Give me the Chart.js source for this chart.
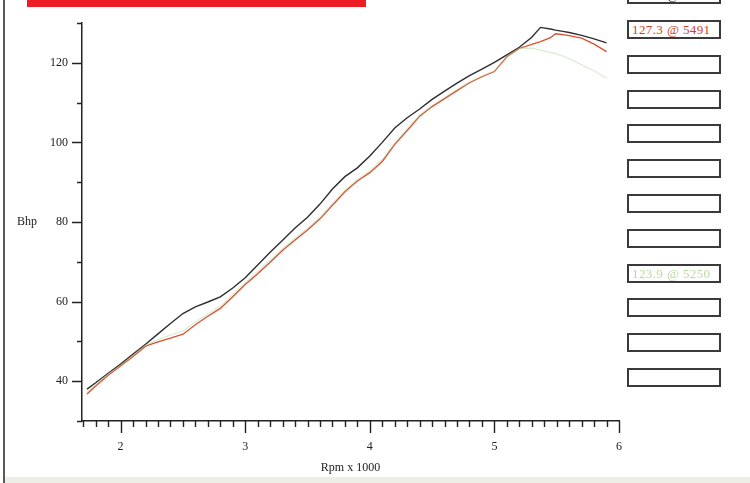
<!DOCTYPE html>
<html>
<head>
<meta charset="utf-8">
<script src="https://cdn.jsdelivr.net/npm/chart.js@4.4.1/dist/chart.umd.min.js"></script>
<style>
  body { margin: 0; background: #fff; }
  #wrap { position: relative; width: 750px; height: 483px; overflow: hidden; background: #fff; }
  #wrap canvas { position: absolute; left: 0; top: 0; }
  .redbar { position: absolute; left: 27px; top: 0; width: 339px; height: 7px; background: #ee1c25; }
  .leftline { position: absolute; left: 3px; top: 0; width: 2px; height: 483px; background: #5a5a5a; }
  .bottomband { position: absolute; left: 5px; top: 477px; width: 745px; height: 6px; background: #efeee6; }
  .box {
    position: absolute; left: 627px; width: 94px; height: 19px;
    box-sizing: border-box; border: 2px solid #3a3a3a; background: #fff;
    font: 13px "Liberation Serif", "DejaVu Serif", serif; line-height: 15px;
    padding-left: 3px; letter-spacing: 0.4px; white-space: nowrap; overflow: hidden;
  }
</style>
</head>
<body>
<div id="wrap">
  <canvas id="Chart" width="750" height="483"></canvas>
  <div class="leftline"></div>
  <div class="redbar"></div>
  <div class="bottomband"></div>
  <div id="legendBoxes"></div>
</div>
<script>
// rpm x 1000 / bhp
const rpm = [1.73, 1.8, 1.9, 2.0, 2.1, 2.2, 2.3, 2.4, 2.5, 2.6, 2.7, 2.8, 2.9, 3.0,
  3.1, 3.2, 3.3, 3.4, 3.5, 3.6, 3.7, 3.8, 3.9, 4.0, 4.1, 4.2, 4.3, 4.4, 4.5, 4.6,
  4.7, 4.8, 4.9, 5.0, 5.1, 5.2, 5.3, 5.37, 5.45, 5.49, 5.55, 5.6, 5.7, 5.8, 5.9];

const bhpBlack = [38.0, 39.6, 42.0, 44.3, 46.8, 49.3, 51.9, 54.5, 57.0, 58.7, 59.9, 61.2, 63.4, 66.0,
  69.2, 72.4, 75.4, 78.5, 81.2, 84.5, 88.3, 91.4, 93.6, 96.6, 100.0, 103.6, 106.2, 108.4, 110.8, 112.9,
  114.9, 116.8, 118.4, 120.1, 122.0, 123.9, 126.4, 128.9, 128.5, 128.2, 127.9, 127.6, 126.9, 126.0, 125.0];

const bhpRed = [36.8, 38.8, 41.5, 43.8, 46.2, 48.8, 49.9, 50.8, 51.8, 54.2, 56.3, 58.3, 61.2, 64.3,
  67.0, 69.9, 72.9, 75.5, 78.0, 80.8, 84.2, 87.6, 90.3, 92.4, 95.2, 99.5, 103.0, 106.6, 109.0, 111.0,
  113.0, 115.0, 116.5, 117.8, 121.5, 123.6, 124.6, 125.3, 126.3, 127.3, 127.1, 126.8, 126.2, 124.7, 122.8];

const bhpGreen = [37.2, 39.2, 41.8, 44.0, 46.5, 49.0, 50.4, 51.6, 52.6, 54.8, 56.9, 58.8, 61.8, 64.8,
  67.6, 70.4, 73.3, 75.9, 78.4, 81.2, 84.6, 88.0, 90.7, 92.9, 95.7, 99.9, 103.4, 106.9, 109.3, 111.3,
  113.3, 115.2, 116.7, 118.0, 121.6, 123.6, 123.7, 123.2, 122.6, 122.3, 121.7, 121.0, 119.5, 118.0, 116.2];

const legendTexts = ["128.9 @ 5367", "127.3 @ 5491", "", "", "", "", "", "", "123.9 @ 5250", "", "", ""];
const legendColors = ["#222", "#d3402a", "#222", "#222", "#222", "#222", "#222", "#222", "#b9d9a2", "#222", "#222", "#222"];

const serif = '"Liberation Serif", "DejaVu Serif", serif';

const toPoints = (ys) => rpm.map((x, i) => ({ x: x, y: ys[i] }));

// legend boxes on the right
const boxHolder = document.getElementById("legendBoxes");
legendTexts.forEach((txt, i) => {
  const d = document.createElement("div");
  d.className = "box";
  d.style.top = (-14.8 + i * 34.8) + "px";
  d.style.color = legendColors[i];
  d.textContent = txt;
  boxHolder.appendChild(d);
});

// tick marks: long on whole numbers, short in between
const tickMarks = {
  id: "tickMarks",
  afterDraw(chart) {
    const ctx = chart.ctx;
    const xs = chart.scales.x;
    const ys = chart.scales.y;
    const area = chart.chartArea;
    ctx.save();
    ctx.strokeStyle = "#222";
    ctx.lineWidth = 1.4;
    ctx.beginPath();
    for (let k = 17; k <= 60; k++) {
      const px = Math.round(xs.getPixelForValue(k / 10)) + 0.5;
      const len = k % 10 === 0 ? 12 : 6;
      ctx.moveTo(px, area.bottom);
      ctx.lineTo(px, area.bottom + len);
    }
    for (let v = 30; v <= 130; v += 10) {
      const py = Math.round(ys.getPixelForValue(v)) + 0.5;
      const len = v % 20 === 0 ? 10 : 5;
      ctx.moveTo(area.left, py);
      ctx.lineTo(area.left - len, py);
    }
    ctx.stroke();
    // horizontal y title
    ctx.fillStyle = "#222";
    ctx.font = "12px " + serif;
    ctx.textAlign = "left";
    ctx.textBaseline = "middle";
    ctx.fillText("Bhp", 17, (area.top + area.bottom) / 2);
    ctx.restore();
  },
};

const ctx = document.getElementById("Chart").getContext("2d");
const myChart = new Chart(ctx, {
  type: "line",
  data: {
    datasets: [
      {
        label: "green",
        data: toPoints(bhpGreen),
        borderColor: "rgba(170, 210, 150, 0.45)",
        borderWidth: 1.2,
        pointRadius: 0,
      },
      {
        label: "red",
        data: toPoints(bhpRed),
        borderColor: "#d9502f",
        borderWidth: 1.3,
        pointRadius: 0,
      },
      {
        label: "black",
        data: toPoints(bhpBlack),
        borderColor: "#2e2e2e",
        borderWidth: 1.4,
        pointRadius: 0,
      },
    ],
  },
  options: {
    responsive: false,
    animation: false,
    layout: { padding: { left: 0, right: 131, top: 23, bottom: 0 } },
    plugins: {
      legend: { display: false },
      tooltip: { enabled: false },
    },
    scales: {
      x: {
        type: "linear",
        min: 1.69,
        max: 6,
        afterFit: (scale) => { scale.height = 62; },
        afterBuildTicks: (scale) => {
          scale.ticks = [2, 3, 4, 5, 6].map((v) => ({ value: v }));
        },
        grid: { display: true, drawOnChartArea: false, drawTicks: false },
        border: { display: true, color: "#222", width: 1.5 },
        ticks: {
          padding: 19,
          color: "#222",
          font: { family: serif, size: 12 },
          maxRotation: 0,
        },
        title: {
          display: true,
          text: "Rpm x 1000",
          color: "#222",
          font: { family: serif, size: 12 },
          padding: { top: 0, bottom: 8 },
        },
      },
      y: {
        min: 30,
        max: 130,
        afterFit: (scale) => { scale.width = 82; },
        afterBuildTicks: (scale) => {
          scale.ticks = [40, 60, 80, 100, 120].map((v) => ({ value: v }));
        },
        grid: { display: true, drawOnChartArea: false, drawTicks: false },
        border: { display: true, color: "#222", width: 1.5 },
        ticks: {
          padding: 14,
          color: "#222",
          font: { family: serif, size: 12 },
        },
      },
    },
  },
  plugins: [tickMarks],
});
</script>
</body>
</html>
